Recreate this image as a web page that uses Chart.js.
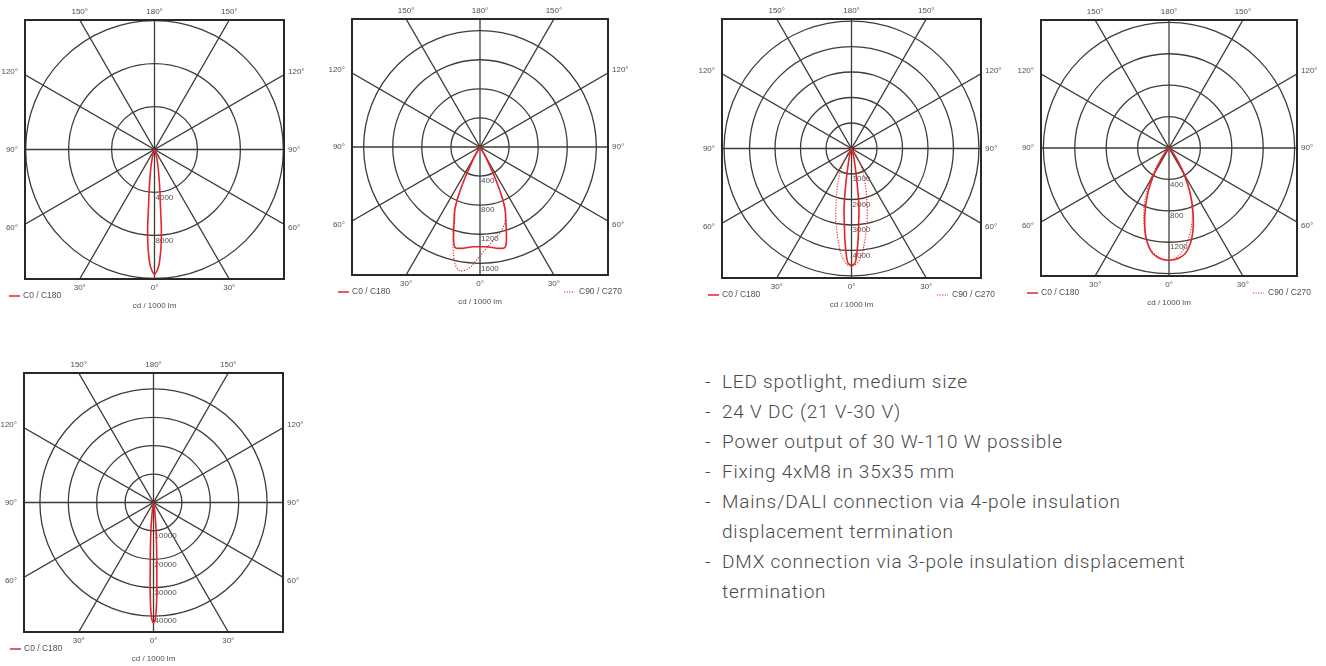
<!DOCTYPE html>
<html>
<head>
<meta charset="utf-8">
<script src="https://cdn.jsdelivr.net/npm/chart.js@4.4.1/dist/chart.umd.min.js"></script>
<style>
  html, body { margin: 0; padding: 0; background: #fff; }
  body { position: relative; width: 1326px; height: 666px; overflow: hidden; }
  canvas { position: absolute; }
  .features {
    position: absolute; left: 705px; top: 367px; margin: 0; padding: 0; list-style: none;
    font-family: Roboto, "Noto Sans", sans-serif; font-weight: 300; font-size: 19px;
    letter-spacing: 0.8px; line-height: 30px; color: #4a4a4a; white-space: nowrap;
  }
  .features li { position: relative; padding-left: 17px; }
  .features li::before { content: "-"; position: absolute; left: 0; }
</style>
</head>
<body>

<ul class="features">
  <li>LED spotlight, medium size</li>
  <li>24 V DC (21 V-30 V)</li>
  <li>Power output of 30 W-110 W possible</li>
  <li>Fixing 4xM8 in 35x35 mm</li>
  <li>Mains/DALI connection via 4-pole insulation<br>displacement termination</li>
  <li>DMX connection via 3-pole insulation displacement<br>termination</li>
</ul>

<script>
// luminous intensity, cd / 1000 lm
// gamma = angle from the downward 0° axis, in degrees

// 1: narrow spot, C0 / C180
const gamma1 = [0, 2, 3, 4, 5, 6, 7, 8, 10, 12, 15, 20, 25, 30];
const spot1C0 = [11600, 10900, 10000, 8900, 7300, 5300, 4200, 3400, 2200, 1500, 800, 250, 80, 0];
const spot1C180 = [11600, 10900, 10000, 8900, 7300, 5300, 4200, 3400, 2200, 1500, 800, 250, 80, 0];
const rings1 = [4000, 8000, 12000];
const ringLabels1 = ['4000', '8000'];

// 2: wide flood with side lobes
const gamma2 = [0, 2, 4, 6, 8, 10, 12, 13, 14, 15, 16, 17, 18, 20, 22, 24, 26, 28, 30, 35, 40, 45];
const flood2C0 = [1370, 1372, 1375, 1385, 1400, 1415, 1425, 1430, 1420, 1385, 1320, 1240, 1165, 1030, 920, 720, 460, 250, 130, 40, 10, 0];
const flood2C180 = [1370, 1372, 1375, 1385, 1400, 1415, 1425, 1430, 1420, 1385, 1320, 1240, 1165, 1030, 920, 720, 460, 250, 130, 40, 10, 0];
const flood2C90 = [1500, 1440, 1390, 1340, 1300, 1265, 1230, 1212, 1195, 1175, 1150, 1125, 1100, 1030, 920, 720, 460, 250, 130, 40, 10, 0];
const flood2C270 = [1500, 1560, 1640, 1690, 1720, 1715, 1650, 1590, 1510, 1430, 1340, 1270, 1200, 1060, 930, 730, 470, 255, 135, 40, 10, 0];
const rings2 = [400, 800, 1200, 1600];
const ringLabels2 = ['400', '800', '1200', '1600'];

// 3: oval spot
const gamma3 = [0, 2, 4, 5, 6, 7, 8, 9, 10, 12, 14, 16, 18, 20, 23, 26, 30, 35, 40, 45, 50];
const oval3C0 = [4600, 4450, 3650, 3150, 2750, 2400, 1950, 1450, 1100, 600, 380, 250, 160, 80, 40, 20, 0, 0, 0, 0, 0];
const oval3C180 = [4600, 4450, 3650, 3150, 2750, 2400, 1950, 1450, 1100, 600, 380, 250, 160, 80, 40, 20, 0, 0, 0, 0, 0];
const oval3C90 = [4600, 4560, 4400, 4250, 4100, 3900, 3700, 3500, 3300, 2950, 2550, 2200, 1900, 1620, 1300, 1000, 650, 330, 130, 40, 0];
const oval3C270 = [4600, 4560, 4400, 4250, 4100, 3900, 3700, 3500, 3300, 2950, 2550, 2200, 1900, 1620, 1300, 1000, 650, 330, 130, 40, 0];
const rings3 = [1000, 2000, 3000, 4000, 5000];
const ringLabels3 = ['1000', '2000', '3000', '4000'];

// 4: medium beam
const gamma4 = [0, 5, 10, 15, 20, 25, 30, 35, 40, 45, 50];
const medium4C0 = [1430, 1410, 1330, 1150, 900, 640, 380, 180, 70, 20, 0];
const medium4C180 = [1430, 1410, 1330, 1150, 900, 640, 380, 180, 70, 20, 0];
const medium4C90 = [1430, 1380, 1250, 1080, 870, 630, 370, 170, 65, 20, 0];
const medium4C270 = [1430, 1400, 1320, 1160, 940, 720, 480, 230, 90, 25, 0];
const rings4 = [400, 800, 1200, 1600];
const ringLabels4 = ['400', '800', '1200'];

// 5: very narrow spot, C0 / C180
const gamma5 = [0, 1, 2, 3, 4, 5, 6, 8, 10, 12, 15, 20];
const spot5C0 = [42500, 40500, 33000, 22000, 15500, 11000, 7500, 3500, 1800, 900, 300, 0];
const spot5C180 = [42500, 40500, 33000, 22000, 15500, 11000, 7500, 3500, 1800, 900, 300, 0];
const rings5 = [10000, 20000, 30000, 40000];
const ringLabels5 = ['10000', '20000', '30000', '40000'];

const RED = '#e2262b';
const GRID = '#403b38';
const TEXT = '#505050';
const FONT = '8px "Liberation Sans", Arial, sans-serif';
const LEGEND_FONT = '8.5px "Liberation Sans", Arial, sans-serif';
const PAD = { left: 30, right: 30, top: 20, bottom: 40 };

// left half of the diagram from the left values, right half from the right values
function curvePoints(gammas, leftValues, rightValues) {
  const pts = [];
  for (let i = gammas.length - 1; i >= 0; i--) {
    const a = gammas[i] * Math.PI / 180;
    pts.push({ x: -leftValues[i] * Math.sin(a), y: -leftValues[i] * Math.cos(a) });
  }
  for (let i = 1; i < gammas.length; i++) {
    const a = gammas[i] * Math.PI / 180;
    pts.push({ x: rightValues[i] * Math.sin(a), y: -rightValues[i] * Math.cos(a) });
  }
  return pts;
}

const polarGrid = {
  id: 'polarGrid',
  beforeDatasetsDraw(chart, args, opts) {
    const { ctx, chartArea: a, scales: { x, y } } = chart;
    const cx = x.getPixelForValue(0), cy = y.getPixelForValue(0);
    const t30 = Math.tan(Math.PI / 6);
    ctx.save();

    ctx.strokeStyle = GRID;
    ctx.lineWidth = 1.3;
    opts.rings.forEach(v => {
      const r = x.getPixelForValue(v) - cx;
      ctx.beginPath();
      ctx.arc(cx, cy, r, 0, Math.PI * 2);
      ctx.stroke();
    });

    ctx.save();
    ctx.beginPath();
    ctx.rect(a.left, a.top, a.width, a.height);
    ctx.clip();
    const len = a.width * 2;
    for (let d = 0; d < 180; d += 30) {
      const t = d * Math.PI / 180;
      ctx.beginPath();
      ctx.moveTo(cx - len * Math.sin(t), cy - len * Math.cos(t));
      ctx.lineTo(cx + len * Math.sin(t), cy + len * Math.cos(t));
      ctx.stroke();
    }
    ctx.restore();

    ctx.strokeStyle = '#2a2725';
    ctx.lineWidth = 2;
    ctx.strokeRect(a.left, a.top, a.width, a.height);

    ctx.fillStyle = TEXT;
    ctx.font = FONT;
    ctx.textBaseline = 'middle';

    // ring values along the 0° axis
    ctx.textAlign = 'left';
    opts.ringLabels.forEach((txt, i) => {
      const r = x.getPixelForValue(opts.rings[i]) - cx;
      ctx.fillText(txt, cx + 1, cy + r + 5);
    });

    // angle labels where the spokes leave the frame
    const dxTop = (cy - a.top) * t30;
    const dyTop = (cx - a.left) * t30;
    ctx.textAlign = 'center';
    ctx.fillText('150°', cx - dxTop, a.top - 8.5);
    ctx.fillText('180°', cx, a.top - 8.5);
    ctx.fillText('150°', cx + dxTop, a.top - 8.5);
    ctx.fillText('30°', cx - dxTop, a.bottom + 9);
    ctx.fillText('0°', cx, a.bottom + 9);
    ctx.fillText('30°', cx + dxTop, a.bottom + 9);
    ctx.textAlign = 'right';
    ctx.fillText('120°', a.left - 7, cy - dyTop - 3);
    ctx.fillText('90°', a.left - 7, cy);
    ctx.fillText('60°', a.left - 7, cy + dyTop + 4);
    ctx.textAlign = 'left';
    ctx.fillText('120°', a.right + 4, cy - dyTop - 3);
    ctx.fillText('90°', a.right + 4, cy);
    ctx.fillText('60°', a.right + 4, cy + dyTop + 4);

    ctx.textAlign = 'center';
    ctx.fillText('cd / 1000 lm', cx, a.bottom + 27);

    // legend
    ctx.font = LEGEND_FONT;
    const ly = a.bottom + 17;
    const lx = a.left + opts.legendX;
    ctx.strokeStyle = RED;
    ctx.lineWidth = 1.5;
    ctx.beginPath();
    ctx.moveTo(lx, ly);
    ctx.lineTo(lx + 11, ly);
    ctx.stroke();
    ctx.textAlign = 'left';
    ctx.fillText('C0 / C180', lx + 14, ly);
    if (opts.dotted) {
      ctx.textAlign = 'right';
      ctx.fillText('C90 / C270', a.right + 14, ly);
      const tw = ctx.measureText('C90 / C270').width;
      ctx.lineWidth = 1;
      ctx.setLineDash([1.2, 1.4]);
      ctx.beginPath();
      ctx.moveTo(a.right + 14 - tw - 15, ly);
      ctx.lineTo(a.right + 14 - tw - 4, ly);
      ctx.stroke();
      ctx.setLineDash([]);
    }
    ctx.restore();
  }
};

function solidSet(points) {
  return { data: points, showLine: true, borderColor: RED, borderWidth: 1.6, pointRadius: 0, fill: false };
}
function dottedSet(points) {
  return { data: points, showLine: true, borderColor: RED, borderWidth: 1.1, borderDash: [1.2, 1.5], pointRadius: 0, fill: false };
}

function polarChart(box, max, rings, ringLabels, datasets, legendX) {
  const canvas = document.createElement('canvas');
  canvas.width = box.size + PAD.left + PAD.right;
  canvas.height = box.size + PAD.top + PAD.bottom;
  canvas.style.left = (box.left - PAD.left) + 'px';
  canvas.style.top = (box.top - PAD.top) + 'px';
  document.body.appendChild(canvas);
  return new Chart(canvas, {
    type: 'scatter',
    data: { datasets },
    options: {
      responsive: false,
      animation: false,
      events: [],
      layout: { padding: PAD },
      scales: {
        x: { display: false, min: -max, max: max },
        y: { display: false, min: -max, max: max },
      },
      elements: { line: { tension: 0.3 } },
      plugins: {
        legend: { display: false },
        tooltip: { enabled: false },
        polarGrid: { rings, ringLabels, legendX, dotted: datasets.length > 1 },
      },
    },
    plugins: [polarGrid],
  });
}

polarChart({ left: 25, top: 20, size: 259 }, 12060, rings1, ringLabels1,
  [solidSet(curvePoints(gamma1, spot1C180, spot1C0))], -16);

polarChart({ left: 352, top: 19, size: 256 }, 1760, rings2, ringLabels2,
  [dottedSet(curvePoints(gamma2, flood2C270, flood2C90)), solidSet(curvePoints(gamma2, flood2C180, flood2C0))], -14);

polarChart({ left: 722, top: 19, size: 259 }, 5080, rings3, ringLabels3,
  [dottedSet(curvePoints(gamma3, oval3C270, oval3C90)), solidSet(curvePoints(gamma3, oval3C180, oval3C0))], -14);

polarChart({ left: 1041, top: 20, size: 256 }, 1630, rings4, ringLabels4,
  [dottedSet(curvePoints(gamma4, medium4C270, medium4C90)), solidSet(curvePoints(gamma4, medium4C180, medium4C0))], -14);

polarChart({ left: 24, top: 373, size: 259 }, 45600, rings5, ringLabels5,
  [solidSet(curvePoints(gamma5, spot5C180, spot5C0))], -14);
</script>
</body>
</html>
